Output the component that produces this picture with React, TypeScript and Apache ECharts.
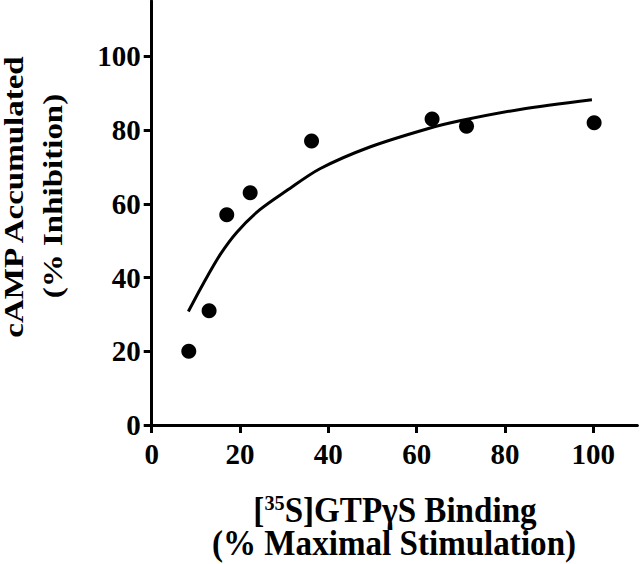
import React, { useEffect, useRef } from "react";
import * as echarts from "echarts";

// Measured data points (x: % maximal stimulation, y: % inhibition)
const pointX = [8.4, 13.0, 17.0, 22.3, 36.2, 63.5, 71.3, 100.2];
const pointY = [20, 31, 57, 63, 77, 83, 81, 82];

// Fitted curve
const curveX = [8.3, 11.7, 15.5, 19.3, 24.5, 30.6, 38.1, 49.4, 62.3, 69.8, 83.4, 99.7];
const curveY = [30.8, 38.4, 46.2, 52.3, 58.4, 63.6, 69.5, 75.4, 80.3, 82.5, 85.6, 88.2];

const xTicks = [0, 20, 40, 60, 80, 100];
const yTicks = [0, 20, 40, 60, 80, 100];

const yTitle1 = "cAMP Accumulated";
const yTitle2 = "(% Inhibition)";
const xTitle2 = "(% Maximal Stimulation)";

const FONT = "'Liberation Serif', 'Times New Roman', serif";

export default function App() {
  const ref = useRef<HTMLDivElement>(null);
  useEffect(() => {
    if (!ref.current) return;
    document.body.style.margin = "0";
    const chart = echarts.init(ref.current, null, { renderer: "svg" });
    const axisCommon = {
      type: "value",
      splitLine: { show: false },
      axisLine: { show: true, onZero: false, lineStyle: { color: "#000", width: 3 } },
      axisTick: { show: true, length: 8, lineStyle: { color: "#000", width: 3 } },
      axisLabel: {
        color: "#000",
        fontFamily: FONT,
        fontWeight: "bold",
        fontSize: 29,
      },
    };
    chart.setOption({
      animation: false,
      backgroundColor: "#fff",
      grid: { left: 151.7, top: 1, width: 485.7, height: 424 },
      xAxis: {
        ...axisCommon,
        min: 0,
        max: 110,
        interval: 20,
        axisTick: { ...axisCommon.axisTick, customValues: xTicks },
        axisLabel: { ...axisCommon.axisLabel, margin: 14, customValues: xTicks },
      },
      yAxis: {
        ...axisCommon,
        min: 0,
        max: 115,
        interval: 20,
        axisTick: { ...axisCommon.axisTick, customValues: yTicks },
        axisLabel: { ...axisCommon.axisLabel, margin: 11, customValues: yTicks },
      },
      series: [
        {
          type: "line",
          data: curveX.map((x, i) => [x, curveY[i]]),
          smooth: 0.3,
          showSymbol: false,
          symbol: "none",
          lineStyle: { color: "#000", width: 3 },
          z: 2,
        },
        {
          type: "scatter",
          data: pointX.map((x, i) => [x, pointY[i]]),
          symbol: "circle",
          symbolSize: 15,
          itemStyle: { color: "#000", opacity: 1 },
          z: 3,
        },
      ],
      graphic: [
        {
          type: "text",
          x: 14,
          y: 197,
          rotation: Math.PI / 2,
          scaleY: 0.8,
          style: {
            text: yTitle1,
            font: `bold 33px ${FONT}`,
            lineHeight: 24,
            fill: "#000",
            align: "center",
            verticalAlign: "middle",
          },
        },
        {
          type: "text",
          x: 53,
          y: 196,
          rotation: Math.PI / 2,
          scaleY: 0.8,
          style: {
            text: yTitle2,
            font: `bold 33px ${FONT}`,
            lineHeight: 24,
            fill: "#000",
            align: "center",
            verticalAlign: "middle",
          },
        },
        {
          type: "text",
          x: 395,
          y: 510,
          scaleX: 0.92,
          style: {
            text: "{n|[}{sup|35}{n|S]GTPγS Binding}",
            align: "center",
            verticalAlign: "middle",
            fill: "#000",
            rich: {
              n: { font: `bold 36px ${FONT}`, fill: "#000" },
              sup: { font: `bold 22px ${FONT}`, fill: "#000", verticalAlign: "top" },
            },
          },
        },
        {
          type: "text",
          x: 394,
          y: 543,
          scaleX: 0.92,
          style: {
            text: xTitle2,
            font: `bold 36px ${FONT}`,
            lineHeight: 30,
            fill: "#000",
            align: "center",
            verticalAlign: "middle",
          },
        },
      ],
    });
    return () => chart.dispose();
  }, []);
  return <div ref={ref} style={{ width: 640, height: 564 }} />;
}
